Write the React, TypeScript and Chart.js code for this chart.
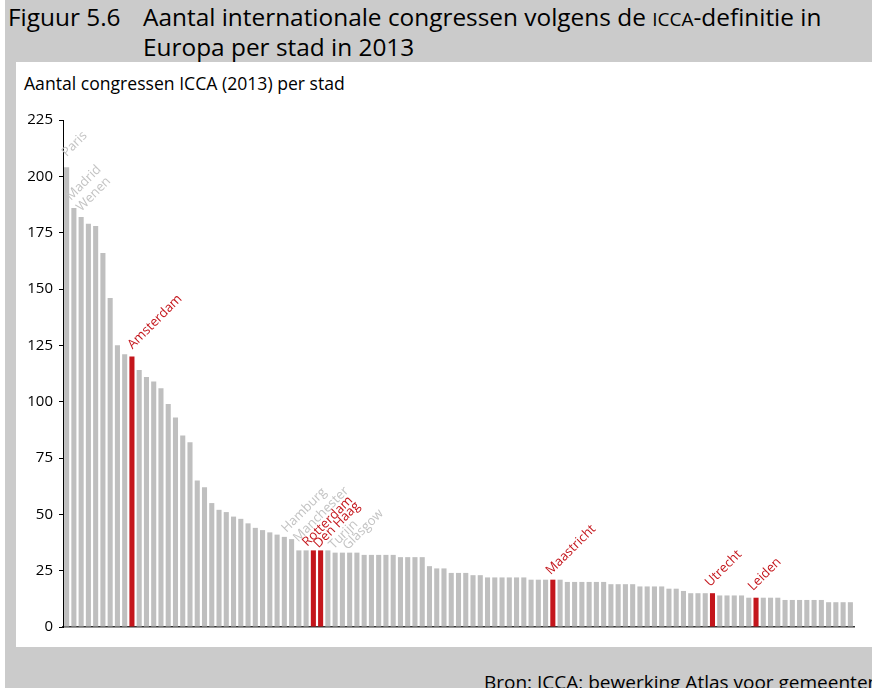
import React, { useEffect, useRef } from "react";
import { Chart, registerables } from "chart.js";

Chart.register(...registerables);

// ---- data ----
const congressCounts: number[] = [
  204, 186, 182, 179, 178, 166, 146, 125, 121, 120,
  114, 111, 109, 106, 99, 93, 85, 82, 65, 62,
  55, 52, 51, 49, 48, 46, 44, 43, 42, 41,
  40, 39, 34, 34, 34, 34, 34, 33, 33, 33,
  33, 32, 32, 32, 32, 32, 31, 31, 31, 31,
  27, 26, 26, 24, 24, 24, 23, 23, 22, 22,
  22, 22, 22, 22, 21, 21, 21, 21, 21, 20,
  20, 20, 20, 20, 20, 19, 19, 19, 19, 18,
  18, 18, 18, 17, 17, 16, 15, 15, 15, 15,
  14, 14, 14, 14, 13, 13, 13, 13, 13, 12,
  12, 12, 12, 12, 12, 11, 11, 11, 11,
];
const rankLabels: string[] = congressCounts.map((_, i) => String(i + 1));
const dutchRanks: number[] = [10, 35, 36, 68, 90, 96];
const namedCities: string[] = [
  "Paris", "Madrid", "Wenen", "Amsterdam", "Hamburg", "Manchester",
  "Rotterdam", "Den Haag", "Turijn", "Glasgow", "Maastricht", "Utrecht", "Leiden",
];
const namedRanks: number[] = [1, 2, 3, 10, 32, 33, 35, 36, 38, 40, 68, 90, 96];
const yTicks: number[] = [0, 25, 50, 75, 100, 125, 150, 175, 200, 225];

// ---- styles ----
const GREY_BAR = "#bfbfbf";
const RED = "#c4161c";
const GREY_LABEL = "#c3c3c3";
const FRAME = "#cbcbcb";
const FONT = "'Open Sans', 'Noto Sans', sans-serif";
// per-label nudges [dx, dy] relative to bar top-centre
const labelNudges: Record<string, [number, number]> = {
  Paris: [0, -10],
  Madrid: [-3, -7],
  Wenen: [0, -5],
  Amsterdam: [0.5, -7],
  Hamburg: [-5, -6],
  Manchester: [-0.5, -8],
  Rotterdam: [-6, -3.5],
  "Den Haag": [-2, -2],
  Turijn: [-1.5, -3],
  Glasgow: [-2, -2.5],
  Maastricht: [-2, -4.5],
  Utrecht: [-2.5, -6],
  Leiden: [-3, -6.5],
};

const labelPlugin = {
  id: "cityLabels",
  afterDatasetsDraw(chart: any) {
    const meta = chart.getDatasetMeta(0);
    const ctx = chart.ctx;
    ctx.save();
    ctx.font = `13px ${FONT}`;
    ctx.textAlign = "left";
    ctx.textBaseline = "alphabetic";
    namedCities.forEach((name, k) => {
      const idx = namedRanks[k] - 1;
      const bar = meta.data[idx];
      if (!bar) return;
      const nudge = labelNudges[name] || [-2, -6];
      const isDutch = dutchRanks.includes(namedRanks[k]);
      ctx.fillStyle = isDutch ? RED : GREY_LABEL;
      ctx.save();
      ctx.translate(bar.x + nudge[0], bar.y + nudge[1]);
      ctx.rotate(-Math.PI / 4);
      ctx.fillText(name, 0, 0);
      ctx.restore();
    });
    ctx.restore();
  },
};

function ChartCanvas() {
  const ref = useRef<HTMLCanvasElement | null>(null);
  useEffect(() => {
    if (!ref.current) return;
    const colors = congressCounts.map((_, i) =>
      dutchRanks.includes(i + 1) ? RED : GREY_BAR
    );
    const chart = new Chart(ref.current, {
      type: "bar",
      data: {
        labels: rankLabels,
        datasets: [
          {
            data: congressCounts,
            backgroundColor: colors,
            borderWidth: 0,
            categoryPercentage: 1,
            barPercentage: 0.7,
          },
        ],
      },
      options: {
        responsive: false,
        animation: false,
        layout: { padding: { top: 120, bottom: 61, left: 0, right: 18 } },
        plugins: {
          legend: { display: false },
          tooltip: { enabled: false },
          title: { display: false },
        },
        scales: {
          x: {
            type: "category",
            grid: { display: false },
            ticks: { display: false },
            border: { display: true, color: "#333333", width: 1.5 },
            afterFit: (s: any) => {
              s.height = 0;
            },
          },
          y: {
            min: 0,
            max: 225,
            afterBuildTicks: (s: any) => {
              s.ticks = yTicks.map((v) => ({ value: v }));
            },
            grid: {
              display: true,
              drawOnChartArea: false,
              drawTicks: true,
              tickLength: 4,
              color: "#000000",
              lineWidth: 1,
            },
            border: { display: true, color: "#000000", width: 1 },
            ticks: {
              color: "#000000",
              padding: 6,
              font: { family: FONT, size: 15 },
            },
            afterFit: (s: any) => {
              s.width = 63;
            },
          },
        },
      },
      plugins: [labelPlugin],
    } as any);
    return () => chart.destroy();
  }, []);
  return (
    <canvas
      ref={ref}
      width={872}
      height={688}
      style={{ position: "absolute", left: 0, top: 0, width: 872, height: 688 }}
    />
  );
}

export default function App() {
  return (
    <div
      style={{
        position: "fixed",
        left: 0,
        top: 0,
        width: 872,
        height: 688,
        overflow: "hidden",
        background: "#ffffff",
        fontFamily: FONT,
      }}
    >
      {/* grey frame */}
      <div style={{ position: "absolute", left: 5, top: 0, width: 867, height: 688, background: FRAME }} />
      {/* white panel */}
      <div style={{ position: "absolute", left: 16, top: 62, width: 856, height: 585, background: "#ffffff" }} />
      {/* title */}
      <div
        style={{
          position: "absolute",
          left: 8,
          top: 3,
          fontSize: 24.4,
          lineHeight: "28px",
          color: "#000",
          whiteSpace: "nowrap",
        }}
      >
        Figuur 5.6
      </div>
      <div
        style={{
          position: "absolute",
          left: 143,
          top: 3,
          fontSize: 24.4,
          lineHeight: "28px",
          color: "#000",
          whiteSpace: "nowrap",
        }}
      >
        Aantal internationale congressen volgens de <span style={{ fontSize: 19 }}>ICCA</span>-definitie in
        <br />
        Europa per stad in 2013
      </div>
      {/* subtitle */}
      <div
        style={{
          position: "absolute",
          left: 24,
          top: 72,
          fontSize: 17.6,
          lineHeight: "22px",
          color: "#000",
          whiteSpace: "nowrap",
        }}
      >
        Aantal congressen ICCA (2013) per stad
      </div>
      {/* source */}
      <div
        style={{
          position: "absolute",
          left: 484,
          top: 669,
          fontSize: 19,
          lineHeight: "26px",
          color: "#000",
          whiteSpace: "nowrap",
        }}
      >
        Bron: ICCA; bewerking Atlas voor gemeenten
      </div>
      <ChartCanvas />
    </div>
  );
}
